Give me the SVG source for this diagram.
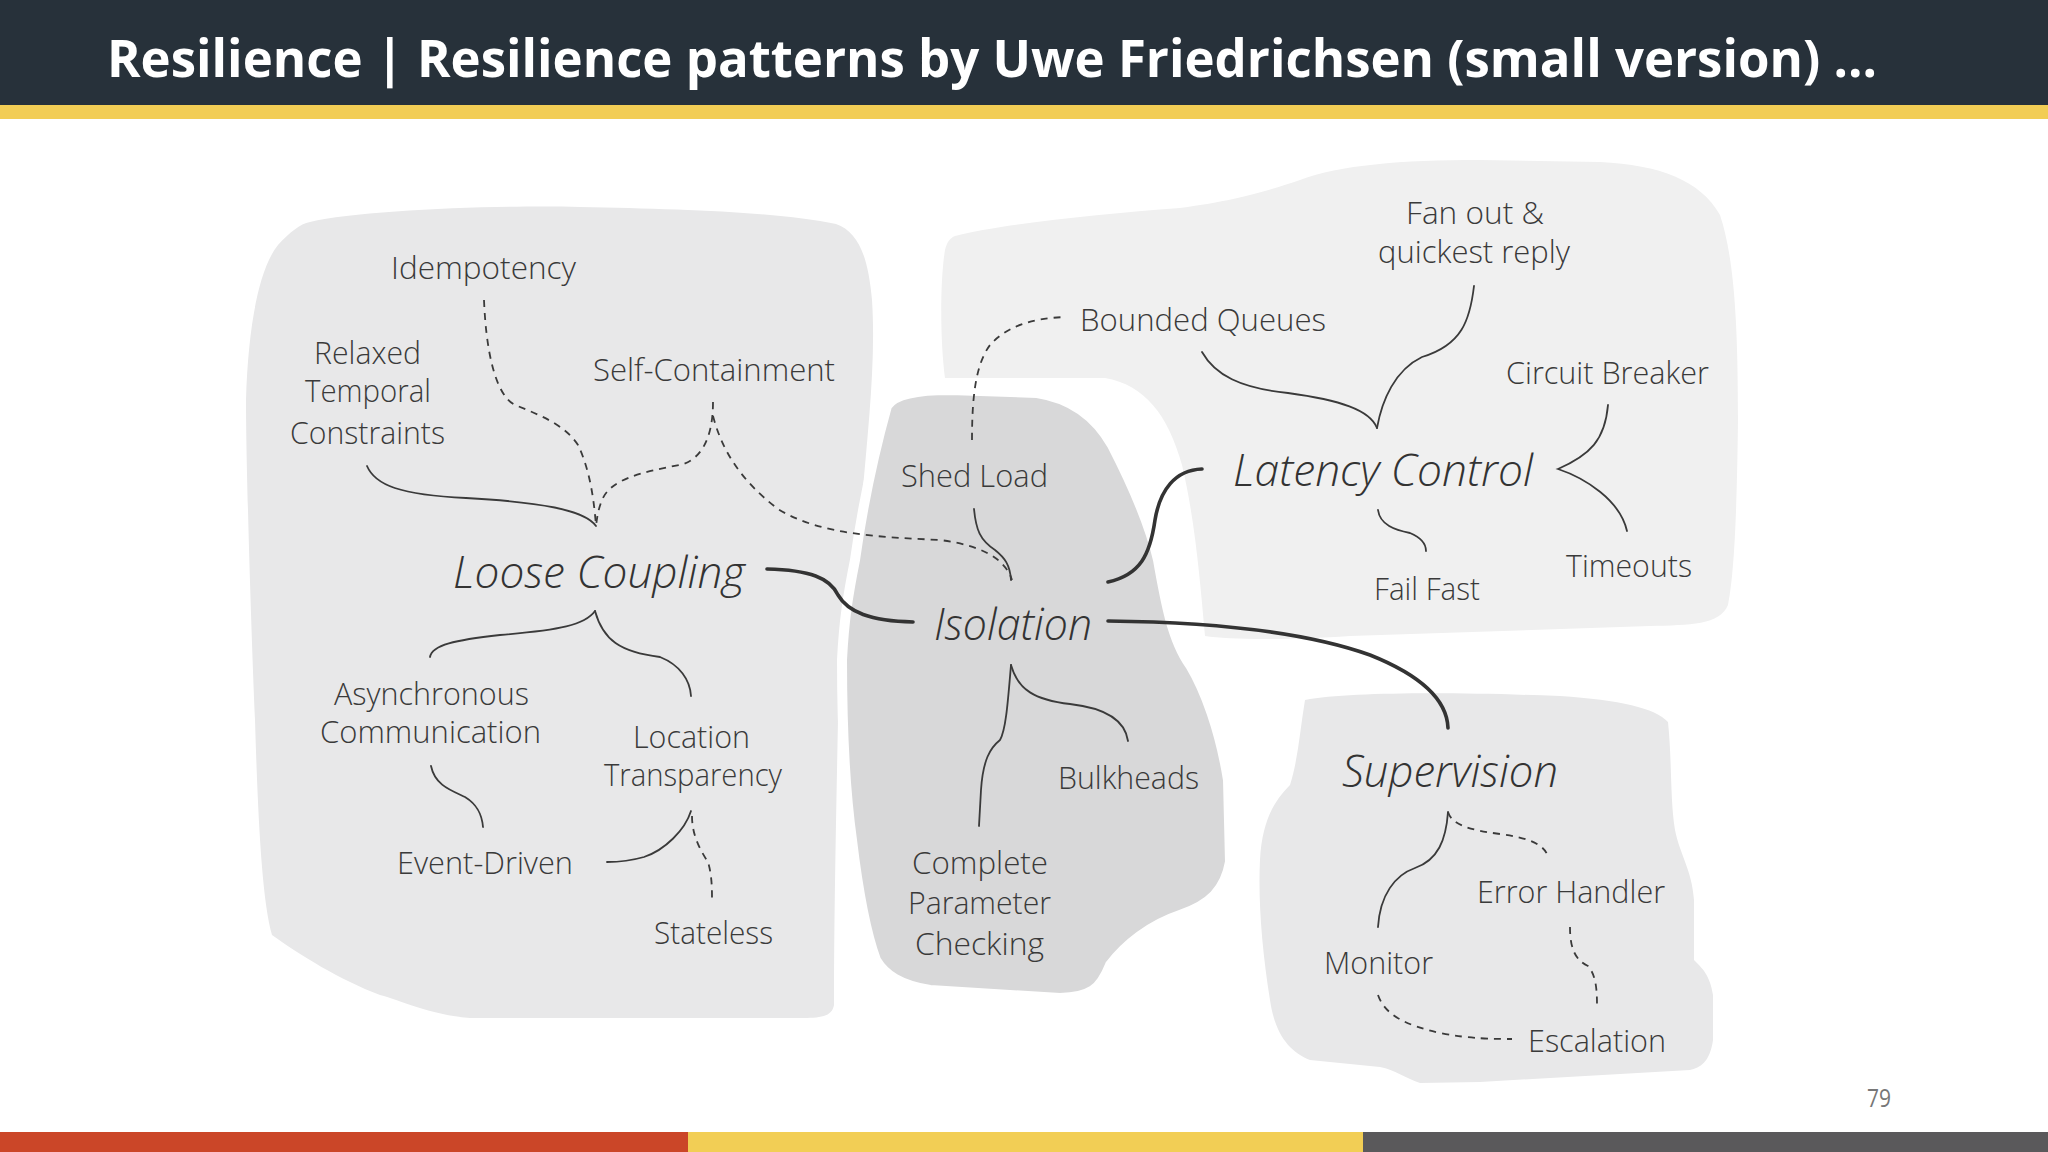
<svg xmlns="http://www.w3.org/2000/svg" width="2048" height="1152" viewBox="0 0 2048 1152">
<style>
.lbl{font-family:"Open Sans","Noto Sans","Liberation Sans",sans-serif;font-weight:300;font-size:32px;fill:#3a3a3a}
.big{font-family:"Open Sans","Noto Sans","Liberation Sans",sans-serif;font-weight:300;font-style:italic;font-size:44px;fill:#333}
.thin{fill:none;stroke:#3a3a3a;stroke-width:1.8;stroke-linecap:round}
.dash{fill:none;stroke:#3a3a3a;stroke-width:1.8;stroke-dasharray:7 6}
.thick{fill:none;stroke:#333;stroke-width:3.6;stroke-linecap:round}
.title{font-family:"Open Sans","Noto Sans","Liberation Sans",sans-serif;font-weight:700;font-size:52px;fill:#fff}
</style>
<rect x="0" y="0" width="2048" height="1152" fill="#fff"/>
<g id="header">
<rect x="0" y="0" width="2048" height="105" fill="#27313a"/>
<rect x="0" y="105" width="2048" height="14" fill="#f2cd55"/>
<text class="title" x="107" y="77" textLength="1770" lengthAdjust="spacingAndGlyphs">Resilience | Resilience patterns by Uwe Friedrichsen (small version) ...</text>
</g>
<g id="footer">
<rect x="0" y="1132" width="688" height="20" fill="#cb4628"/>
<rect x="688" y="1132" width="675" height="20" fill="#f2ce55"/>
<rect x="1363" y="1132" width="685" height="20" fill="#5a595b"/>
<text x="1867" y="1107" font-family="Open Sans, Liberation Sans, sans-serif" font-size="26" fill="#777" textLength="24" lengthAdjust="spacingAndGlyphs">79</text>
</g>
<g id="blobs">
<path id="blob-loose" fill="#e8e8e9" d="M310,222 C360,210 500,205 580,207 C680,209 780,212 836,224 C858,232 868,255 872,300 C876,360 868,430 862,500 C850,560 842,640 838,720 C836,820 834,920 834,1005 C832,1017 820,1018 800,1018 L470,1018 C430,1015 400,1000 380,995 C340,980 300,955 272,935 C262,900 258,820 255,720 C250,600 246,450 246,400 C248,330 258,270 278,245 C290,232 300,224 310,222 Z"/>
<path id="blob-latency" fill="#f0f0f0" d="M955,236 C1000,224 1100,214 1180,208 C1240,200 1270,190 1300,180 C1340,165 1400,160 1480,160 L1600,162 C1660,165 1700,180 1720,215 C1735,260 1738,330 1738,420 C1737,500 1735,570 1728,605 C1720,625 1690,625 1650,626 L1350,636 C1290,640 1230,640 1205,636 C1200,580 1195,520 1182,465 C1168,415 1145,385 1105,378 L945,378 C940,340 940,280 945,250 C947,242 950,238 955,236 Z"/>
<path id="blob-supervision" fill="#e8e8e9" d="M1305,700 C1350,692 1450,692 1560,696 C1620,700 1655,708 1668,722 C1672,760 1670,800 1675,830 C1680,855 1692,870 1694,900 L1694,960 C1702,968 1710,975 1713,995 L1713,1040 C1710,1062 1700,1068 1690,1070 L1480,1082 L1420,1083 C1405,1078 1395,1070 1380,1067 L1310,1060 C1290,1052 1275,1035 1270,1000 C1262,950 1258,900 1260,860 C1262,820 1275,800 1290,785 C1298,760 1300,730 1305,700 Z"/>
<path id="blob-isolation" fill="#d8d8d9" stroke="#fff" stroke-width="10" d="M887,406 C895,393 920,390 950,390 L1037,393 C1070,398 1095,415 1112,445 C1130,480 1150,525 1158,560 C1165,600 1172,640 1190,665 C1205,690 1220,730 1228,780 L1230,862 C1225,890 1210,905 1180,915 C1150,925 1125,945 1110,965 C1100,990 1090,997 1060,998 L930,990 C900,985 885,975 876,960 C865,930 858,890 852,840 C845,790 842,720 842,660 C844,620 848,595 855,560 C862,510 872,460 887,406 Z"/>
</g>
<g id="connectors">
<path class="thick" d="M767,569 C810,570 830,578 838,595 C848,612 870,621 913,622"/>
<path class="thick" d="M1108,582 C1140,575 1150,555 1155,520 C1160,490 1175,470 1202,469"/>
<path class="thick" d="M1108,621 C1200,622 1300,630 1370,655 C1420,675 1447,700 1448,728"/>
<path class="dash" d="M484,300 C486,350 495,395 515,405 C540,415 565,425 578,445 C590,470 594,500 596,526"/>
<path class="thin" d="M367,466 C375,485 400,495 466,498 C540,502 585,510 596,526"/>
<path class="dash" d="M713,402 C713,440 700,460 680,465 C640,472 610,480 602,500 C598,510 597,518 596,526"/>
<path class="dash" d="M713,416 C722,450 740,480 778,509 C820,535 880,537 940,540 C980,545 1005,558 1012,580"/>
<path class="thin" d="M974,509 C976,530 980,540 995,550 C1005,558 1010,565 1011,580"/>
<path class="dash" d="M972,440 C972,400 975,365 990,345 C1005,328 1030,318 1066,317"/>
<path class="thin" d="M1011,665 C1008,700 1006,730 1000,740 C990,748 983,760 981,790 L979,826"/>
<path class="thin" d="M1011,665 C1018,690 1035,700 1070,704 C1105,708 1125,720 1128,741"/>
<path class="thin" d="M595,611 C585,625 560,630 500,635 C455,640 432,645 430,657"/>
<path class="thin" d="M595,611 C603,640 620,652 660,657 C680,665 690,680 691,696"/>
<path class="thin" d="M431,766 C435,785 450,790 465,797 C478,805 482,815 483,827"/>
<path class="thin" d="M691,811 C685,830 665,850 644,857 C630,861 615,862 607,862"/>
<path class="dash" d="M692,816 C692,835 700,850 708,862 C712,875 712,890 712,899"/>
<path class="thin" d="M1202,352 C1215,375 1240,388 1288,393 C1340,400 1370,410 1377,428"/>
<path class="thin" d="M1474,286 C1470,320 1462,345 1422,357 C1395,370 1382,400 1377,428"/>
<path class="thin" d="M1608,405 C1605,440 1590,455 1558,469 C1585,478 1620,500 1627,531"/>
<path class="thin" d="M1378,510 C1380,525 1395,530 1410,533 C1422,538 1426,545 1426,551"/>
<path class="thin" d="M1448,812 C1446,840 1438,860 1415,868 C1395,875 1380,895 1378,927"/>
<path class="dash" d="M1448,812 C1452,825 1470,830 1500,834 C1530,838 1545,845 1548,857"/>
<path class="dash" d="M1570,927 C1570,948 1575,960 1588,966 C1596,975 1597,990 1597,1005"/>
<path class="dash" d="M1378,995 C1385,1015 1405,1025 1440,1033 C1470,1039 1495,1039 1512,1039"/>
</g>
<g id="node-loose-coupling">
<text class="big" x="453" y="588" textLength="292" lengthAdjust="spacingAndGlyphs">Loose Coupling</text>
</g>
<g id="node-idempotency"><text class="lbl" x="391" y="279" textLength="185" lengthAdjust="spacingAndGlyphs">Idempotency</text></g>
<g id="node-relaxed">
<text class="lbl" x="314" y="364" textLength="107" lengthAdjust="spacingAndGlyphs">Relaxed</text>
<text class="lbl" x="305" y="402" textLength="126" lengthAdjust="spacingAndGlyphs">Temporal</text>
<text class="lbl" x="290" y="444" textLength="155" lengthAdjust="spacingAndGlyphs">Constraints</text>
</g>
<g id="node-self-containment"><text class="lbl" x="593" y="381" textLength="242" lengthAdjust="spacingAndGlyphs">Self-Containment</text></g>
<g id="node-async">
<text class="lbl" x="334" y="705" textLength="195" lengthAdjust="spacingAndGlyphs">Asynchronous</text>
<text class="lbl" x="320" y="743" textLength="221" lengthAdjust="spacingAndGlyphs">Communication</text>
</g>
<g id="node-location">
<text class="lbl" x="633" y="748" textLength="117" lengthAdjust="spacingAndGlyphs">Location</text>
<text class="lbl" x="604" y="786" textLength="178" lengthAdjust="spacingAndGlyphs">Transparency</text>
</g>
<g id="node-event-driven"><text class="lbl" x="397" y="874" textLength="176" lengthAdjust="spacingAndGlyphs">Event-Driven</text></g>
<g id="node-stateless"><text class="lbl" x="654" y="944" textLength="119" lengthAdjust="spacingAndGlyphs">Stateless</text></g>
<g id="node-isolation"><text class="big" x="934" y="640" textLength="158" lengthAdjust="spacingAndGlyphs">Isolation</text></g>
<g id="node-shed-load"><text class="lbl" x="901" y="487" textLength="147" lengthAdjust="spacingAndGlyphs">Shed Load</text></g>
<g id="node-bulkheads"><text class="lbl" x="1058" y="789" textLength="141" lengthAdjust="spacingAndGlyphs">Bulkheads</text></g>
<g id="node-complete">
<text class="lbl" x="912" y="874" textLength="136" lengthAdjust="spacingAndGlyphs">Complete</text>
<text class="lbl" x="908" y="914" textLength="143" lengthAdjust="spacingAndGlyphs">Parameter</text>
<text class="lbl" x="915" y="955" textLength="129" lengthAdjust="spacingAndGlyphs">Checking</text>
</g>
<g id="node-latency-control"><text class="big" x="1233" y="486" textLength="300" lengthAdjust="spacingAndGlyphs">Latency Control</text></g>
<g id="node-fan-out">
<text class="lbl" x="1406" y="224" textLength="138" lengthAdjust="spacingAndGlyphs">Fan out &amp;</text>
<text class="lbl" x="1378" y="263" textLength="192" lengthAdjust="spacingAndGlyphs">quickest reply</text>
</g>
<g id="node-bounded-queues"><text class="lbl" x="1080" y="331" textLength="246" lengthAdjust="spacingAndGlyphs">Bounded Queues</text></g>
<g id="node-circuit-breaker"><text class="lbl" x="1506" y="384" textLength="203" lengthAdjust="spacingAndGlyphs">Circuit Breaker</text></g>
<g id="node-fail-fast"><text class="lbl" x="1374" y="600" textLength="106" lengthAdjust="spacingAndGlyphs">Fail Fast</text></g>
<g id="node-timeouts"><text class="lbl" x="1566" y="577" textLength="126" lengthAdjust="spacingAndGlyphs">Timeouts</text></g>
<g id="node-supervision"><text class="big" x="1342" y="787" textLength="216" lengthAdjust="spacingAndGlyphs">Supervision</text></g>
<g id="node-error-handler"><text class="lbl" x="1477" y="903" textLength="188" lengthAdjust="spacingAndGlyphs">Error Handler</text></g>
<g id="node-monitor"><text class="lbl" x="1324" y="974" textLength="109" lengthAdjust="spacingAndGlyphs">Monitor</text></g>
<g id="node-escalation"><text class="lbl" x="1528" y="1052" textLength="138" lengthAdjust="spacingAndGlyphs">Escalation</text></g>
</svg>
